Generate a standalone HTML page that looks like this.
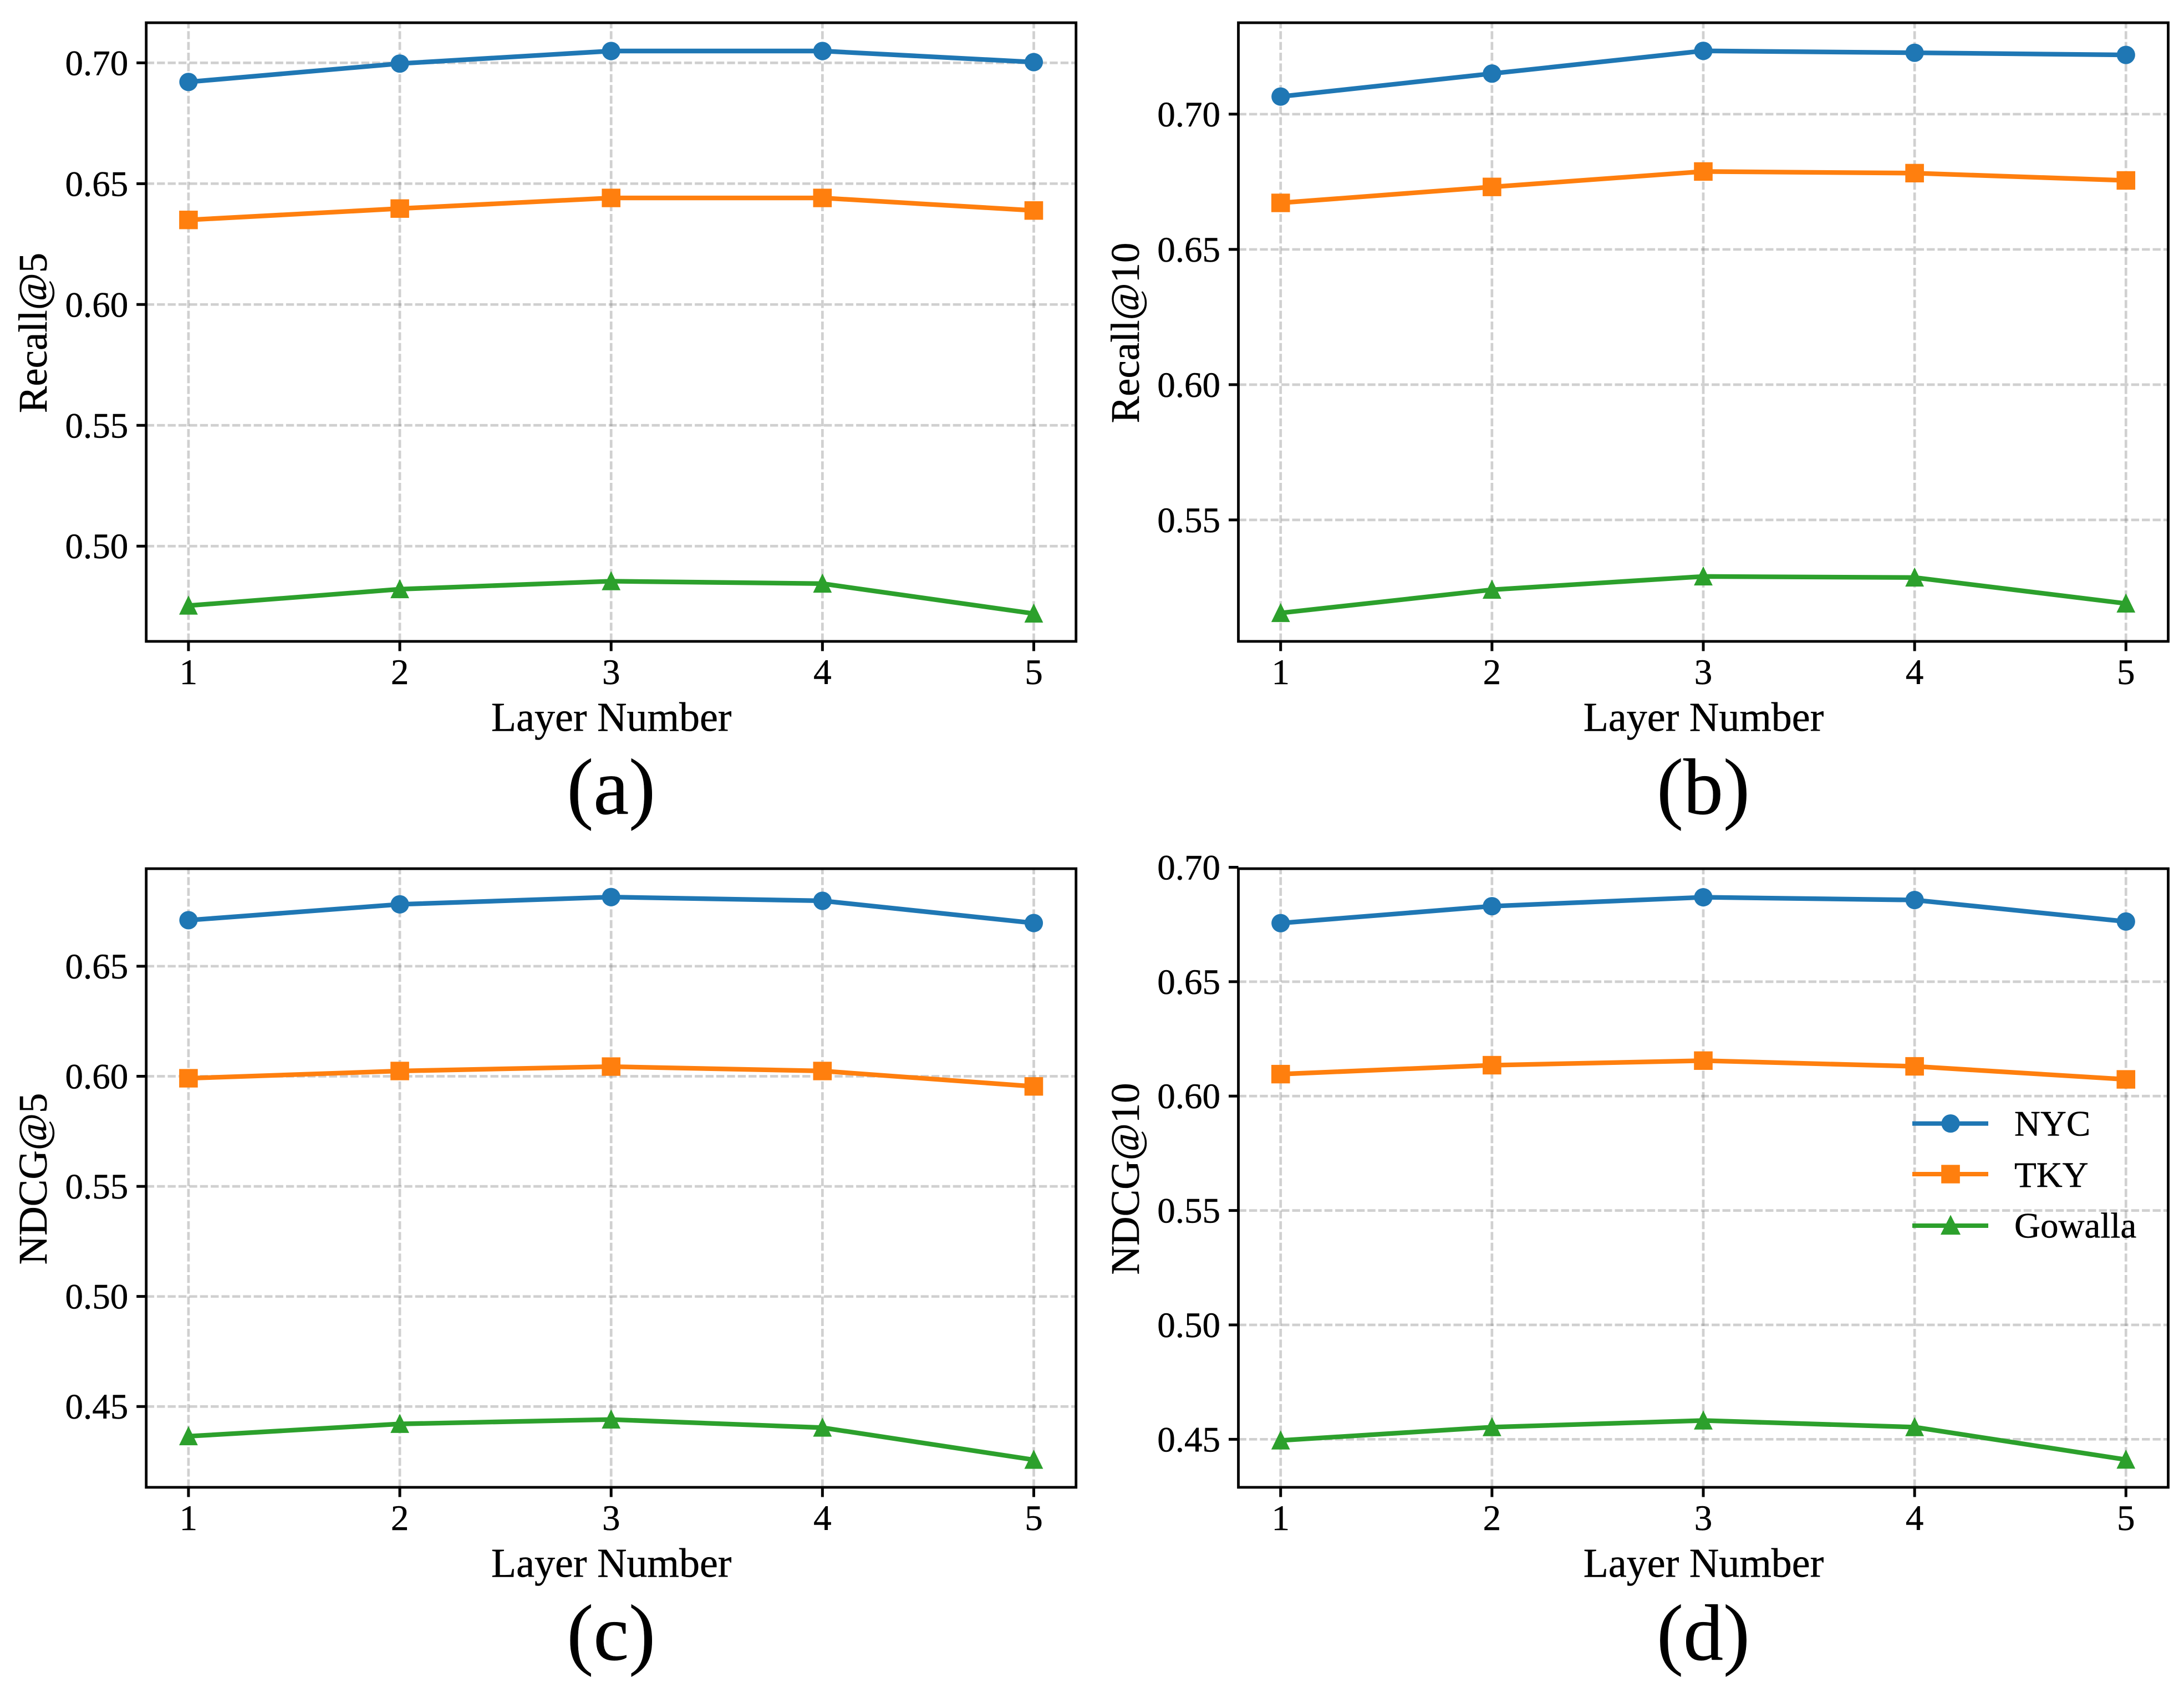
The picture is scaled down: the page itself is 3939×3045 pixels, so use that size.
<!DOCTYPE html>
<html lang="en">
<head>
<meta charset="utf-8">
<title>Layer number sensitivity charts</title>
<style>
html,body{margin:0;padding:0;background:#fff;}
svg{display:block;}
text{font-family:"Liberation Serif","Times New Roman",serif;fill:#000;stroke:#000;stroke-width:0.5px;}
</style>
</head>
<body>
<svg id="figure" xmlns="http://www.w3.org/2000/svg" width="3939" height="3045" viewBox="0 0 3939 3045"></svg>
<script>
const layers = [1, 2, 3, 4, 5];
const xDomain = [0.8, 5.2];
const seriesNames = ['NYC', 'TKY', 'Gowalla'];

const recall5NYC = [0.6921, 0.6997, 0.7049, 0.7049, 0.7003];
const recall5TKY = [0.6350, 0.6397, 0.6441, 0.6441, 0.6389];
const recall5Gowalla = [0.4754, 0.4822, 0.4855, 0.4845, 0.4721];
const recall5Ticks = [0.50, 0.55, 0.60, 0.65, 0.70];
const recall5Domain = [0.4606, 0.7166];

const recall10NYC = [0.7065, 0.7150, 0.7234, 0.7227, 0.7219];
const recall10TKY = [0.6672, 0.6731, 0.6788, 0.6782, 0.6755];
const recall10Gowalla = [0.5156, 0.5242, 0.5291, 0.5287, 0.5191];
const recall10Ticks = [0.55, 0.60, 0.65, 0.70];
const recall10Domain = [0.5051, 0.7338];

const ndcg5NYC = [0.6709, 0.6781, 0.6814, 0.6797, 0.6696];
const ndcg5TKY = [0.5991, 0.6024, 0.6044, 0.6024, 0.5954];
const ndcg5Gowalla = [0.4365, 0.4421, 0.4441, 0.4404, 0.4258];
const ndcg5Ticks = [0.45, 0.50, 0.55, 0.60, 0.65];
const ndcg5Domain = [0.4133, 0.6943];

const ndcg10NYC = [0.6756, 0.6830, 0.6869, 0.6857, 0.6763];
const ndcg10TKY = [0.6096, 0.6135, 0.6155, 0.6130, 0.6073];
const ndcg10Gowalla = [0.4495, 0.4553, 0.4582, 0.4553, 0.4411];
const ndcg10Ticks = [0.45, 0.50, 0.55, 0.60, 0.65, 0.70];
const ndcg10Domain = [0.4290, 0.6994];

const COLORS = ['#1f77b4', '#ff7f0e', '#2ca02c'];
const NS = 'http://www.w3.org/2000/svg';
const svg = document.getElementById('figure');

function make(tag, attrs, parent, text) {
  const el = document.createElementNS(NS, tag);
  for (const k in attrs) el.setAttribute(k, attrs[k]);
  if (text !== undefined) el.textContent = text;
  parent.appendChild(el);
  return el;
}

function drawMarker(kind, cx, cy, color, parent, triScale) {
  let m;
  if (kind === 0) {
    m = make('circle', {cx: cx, cy: cy, r: 16.6, fill: color}, parent);
    
  } else if (kind === 1) {
    m = make('rect', {x: cx - 16.8, y: cy - 16.7, width: 33.6, height: 33.4, fill: color}, parent);
    
  } else {
    const s = triScale;
    const pts = [[cx, cy - 18.2 * s], [cx + 16.9 * s, cy + 16.3], [cx - 16.9 * s, cy + 16.3]].map(p => p.join(',')).join(' ');
    m = make('polygon', {points: pts, fill: color}, parent);
    
  }
  
}

function drawPanel(cfg) {
  const left = cfg.left, top = cfg.top, width = 1677, height = 1116;
  const right = left + width, bottom = top + height;
  const xScale = v => left + (v - xDomain[0]) / (xDomain[1] - xDomain[0]) * width;
  const yScale = v => bottom - (v - cfg.domain[0]) / (cfg.domain[1] - cfg.domain[0]) * height;

  const g = make('g', {}, svg);
  
  

  const grid = make('g', {stroke: '#808080', 'stroke-opacity': 0.37, 'stroke-width': 4.7, 'stroke-dasharray': '14.4 5', fill: 'none'}, g);
  
  
  layers.forEach(v => {
    const l = make('line', {x1: xScale(v), x2: xScale(v), y1: bottom, y2: top}, grid);
    
    
  });
  cfg.ticks.forEach(v => {
    if (v > cfg.domain[1] || v < cfg.domain[0]) return;
    const l = make('line', {x1: left, x2: right, y1: yScale(v), y2: yScale(v)}, grid);
    
    
  });

  cfg.series.forEach((values, i) => {
    const sg = make('g', {}, g);
    
    
    const pts = values.map((v, j) => xScale(layers[j]) + ',' + yScale(v)).join(' ');
    const line = make('polyline', {points: pts, fill: 'none', stroke: COLORS[i], 'stroke-width': 8.4, 'stroke-linejoin': 'round'}, sg);
    
    
    values.forEach((v, j) => drawMarker(i, xScale(layers[j]), yScale(v), COLORS[i], sg, 1));
  });

  const frame = make('rect', {x: left, y: top, width: width, height: height, fill: 'none', stroke: '#000', 'stroke-width': 4.8}, g);
  
  

  layers.forEach(v => {
    const t = make('line', {x1: xScale(v), x2: xScale(v), y1: bottom, y2: bottom + 17.5, stroke: '#000', 'stroke-width': 5}, g);
    
    
    const lab = make('text', {x: xScale(v), y: bottom + 77, 'font-size': 65, 'text-anchor': 'middle'}, g, String(v));
    
    
  });

  cfg.ticks.forEach(v => {
    const t = make('line', {x1: left - 17.5, x2: left, y1: yScale(v), y2: yScale(v), stroke: '#000', 'stroke-width': 5}, g);
    
    
    const lab = make('text', {x: left - 32.5, y: yScale(v) + 22, 'font-size': 65, 'text-anchor': 'end'}, g, v.toFixed(2));
    
    
  });

  const cx = left + width / 2, cy = top + height / 2 + 1.5, yx = left - 179.5;
  const yt = make('text', {x: yx, y: cy, 'font-size': 72.8, 'text-anchor': 'middle', transform: 'rotate(-90 ' + yx + ' ' + cy + ')'}, g, cfg.ylabel);
  
  

  const xt = make('text', {x: cx + 0.5, y: bottom + 161.5, 'font-size': 74, 'text-anchor': 'middle'}, g, 'Layer Number');
  
  

  const cap = make('text', {x: cx, y: bottom + 311, 'font-size': 144, 'text-anchor': 'middle'}, g, '(' + cfg.letter + ')');
  
  
}

drawPanel({letter: 'a', left: 263.7, top: 41, ylabel: 'Recall@5', domain: recall5Domain, ticks: recall5Ticks, series: [recall5NYC, recall5TKY, recall5Gowalla]});
drawPanel({letter: 'b', left: 2233.5, top: 41, ylabel: 'Recall@10', domain: recall10Domain, ticks: recall10Ticks, series: [recall10NYC, recall10TKY, recall10Gowalla]});
drawPanel({letter: 'c', left: 263.7, top: 1567, ylabel: 'NDCG@5', domain: ndcg5Domain, ticks: ndcg5Ticks, series: [ndcg5NYC, ndcg5TKY, ndcg5Gowalla]});
drawPanel({letter: 'd', left: 2233.5, top: 1567, ylabel: 'NDCG@10', domain: ndcg10Domain, ticks: ndcg10Ticks, series: [ndcg10NYC, ndcg10TKY, ndcg10Gowalla]});

const legend = make('g', {}, svg);


const legendRowY = [2026.7, 2118, 2211];
const legendBaseY = [2048.7, 2141, 2232.7];
seriesNames.forEach((name, i) => {
  const row = make('g', {}, legend);
  
  
  const l = make('line', {x1: 3449, x2: 3586, y1: legendRowY[i], y2: legendRowY[i], stroke: COLORS[i], 'stroke-width': 8}, row);
  
  
  drawMarker(i, 3518, legendRowY[i], COLORS[i], row, 1.07);
  const t = make('text', {x: 3633, y: legendBaseY[i], 'font-size': 65}, row, name);
  
  
});
</script>
</body>
</html>
